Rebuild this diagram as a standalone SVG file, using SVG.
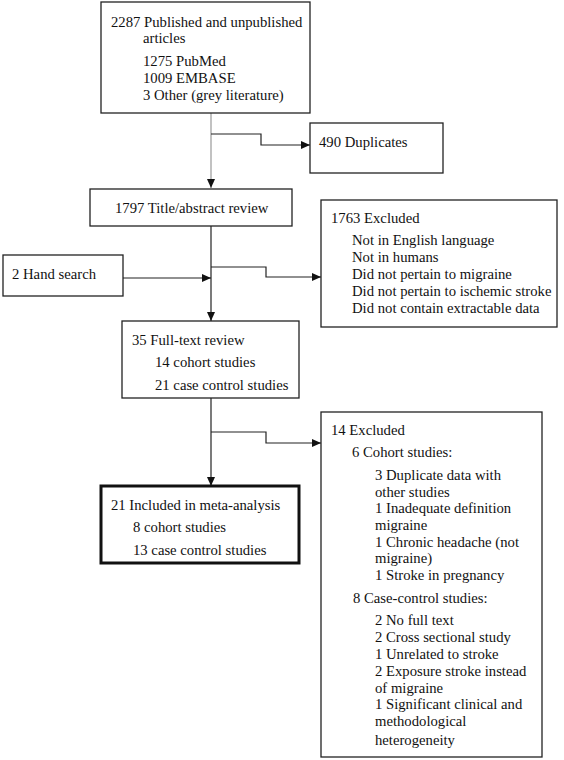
<svg xmlns="http://www.w3.org/2000/svg" width="564" height="760" viewBox="0 0 564 760">
<style>
text{font-family:"Liberation Serif","Times New Roman",serif;font-size:14.7px;fill:#111}
.box{fill:#fff;stroke:#222;stroke-width:1.3}
.thick{fill:#fff;stroke:#111;stroke-width:3}
.c{fill:none;stroke:#222;stroke-width:1.2}
.g{fill:none;stroke:#999;stroke-width:1.2}
</style>
<defs>
<marker id="ah" markerUnits="userSpaceOnUse" markerWidth="9" markerHeight="8" refX="9" refY="4" orient="auto">
<path d="M0,0 L9,4 L0,8 z" fill="#111"/>
</marker>
</defs>
<rect width="564" height="760" fill="#fff"/>
<g id="connectors">
<path class="g" d="M211,113 V188" marker-end="url(#ah)"/>
<path class="c" d="M211,134 H261 V145 H310" marker-end="url(#ah)"/>
<path class="c" d="M211,226 V321" marker-end="url(#ah)"/>
<path class="c" d="M123,278 H211" marker-end="url(#ah)"/>
<path class="c" d="M211,267 H266 V277 H321" marker-end="url(#ah)"/>
<path class="c" d="M211,398 V486" marker-end="url(#ah)"/>
<path class="c" d="M211,432 H266 V443 H321" marker-end="url(#ah)"/>
</g>
<g id="n-records">
<rect class="box" x="101" y="2" width="209" height="111"/>
<text x="111" y="27">2287 Published and unpublished</text>
<text x="143" y="43">articles</text>
<text x="143" y="66">1275 PubMed</text>
<text x="143" y="83">1009 EMBASE</text>
<text x="143" y="100">3 Other (grey literature)</text>
</g>
<g id="n-duplicates">
<rect class="box" x="310" y="123" width="133" height="50"/>
<text x="319" y="147">490 Duplicates</text>
</g>
<g id="n-title">
<rect class="box" x="90" y="189" width="202" height="37"/>
<text x="115" y="213">1797 Title/abstract review</text>
</g>
<g id="n-hand">
<rect class="box" x="3" y="255" width="120" height="41"/>
<text x="12" y="279">2 Hand search</text>
</g>
<g id="n-excl1">
<rect class="box" x="321" y="200" width="236" height="127"/>
<text x="331" y="223">1763 Excluded</text>
<text x="352" y="245">Not in English language</text>
<text x="352" y="262">Not in humans</text>
<text x="352" y="279">Did not pertain to migraine</text>
<text x="352" y="296">Did not pertain to ischemic stroke</text>
<text x="352" y="313">Did not contain extractable data</text>
</g>
<g id="n-fulltext">
<rect class="box" x="122" y="321" width="177" height="77"/>
<text x="132" y="345">35 Full-text review</text>
<text x="155" y="367">14 cohort studies</text>
<text x="155" y="390">21 case control studies</text>
</g>
<g id="n-included">
<rect class="thick" x="101" y="486" width="198" height="77"/>
<text x="111" y="510">21 Included in meta-analysis</text>
<text x="133" y="532">8 cohort studies</text>
<text x="133" y="555">13 case control studies</text>
</g>
<g id="n-excl2">
<rect class="box" x="321" y="412" width="221" height="345"/>
<text x="331" y="435">14 Excluded</text>
<text x="352" y="457">6 Cohort studies:</text>
<text x="375" y="480">3 Duplicate data with</text>
<text x="375" y="497">other studies</text>
<text x="375" y="513">1 Inadequate definition</text>
<text x="375" y="530">migraine</text>
<text x="375" y="547">1 Chronic headache (not</text>
<text x="375" y="563">migraine)</text>
<text x="375" y="580">1 Stroke in pregnancy</text>
<text x="353" y="603">8 Case-control studies:</text>
<text x="375" y="625">2 No full text</text>
<text x="375" y="642">2 Cross sectional study</text>
<text x="375" y="659">1 Unrelated to stroke</text>
<text x="375" y="676">2 Exposure stroke instead</text>
<text x="375" y="693">of migraine</text>
<text x="375" y="709">1 Significant clinical and</text>
<text x="375" y="726">methodological</text>
<text x="375" y="745">heterogeneity</text>
</g>
</svg>
